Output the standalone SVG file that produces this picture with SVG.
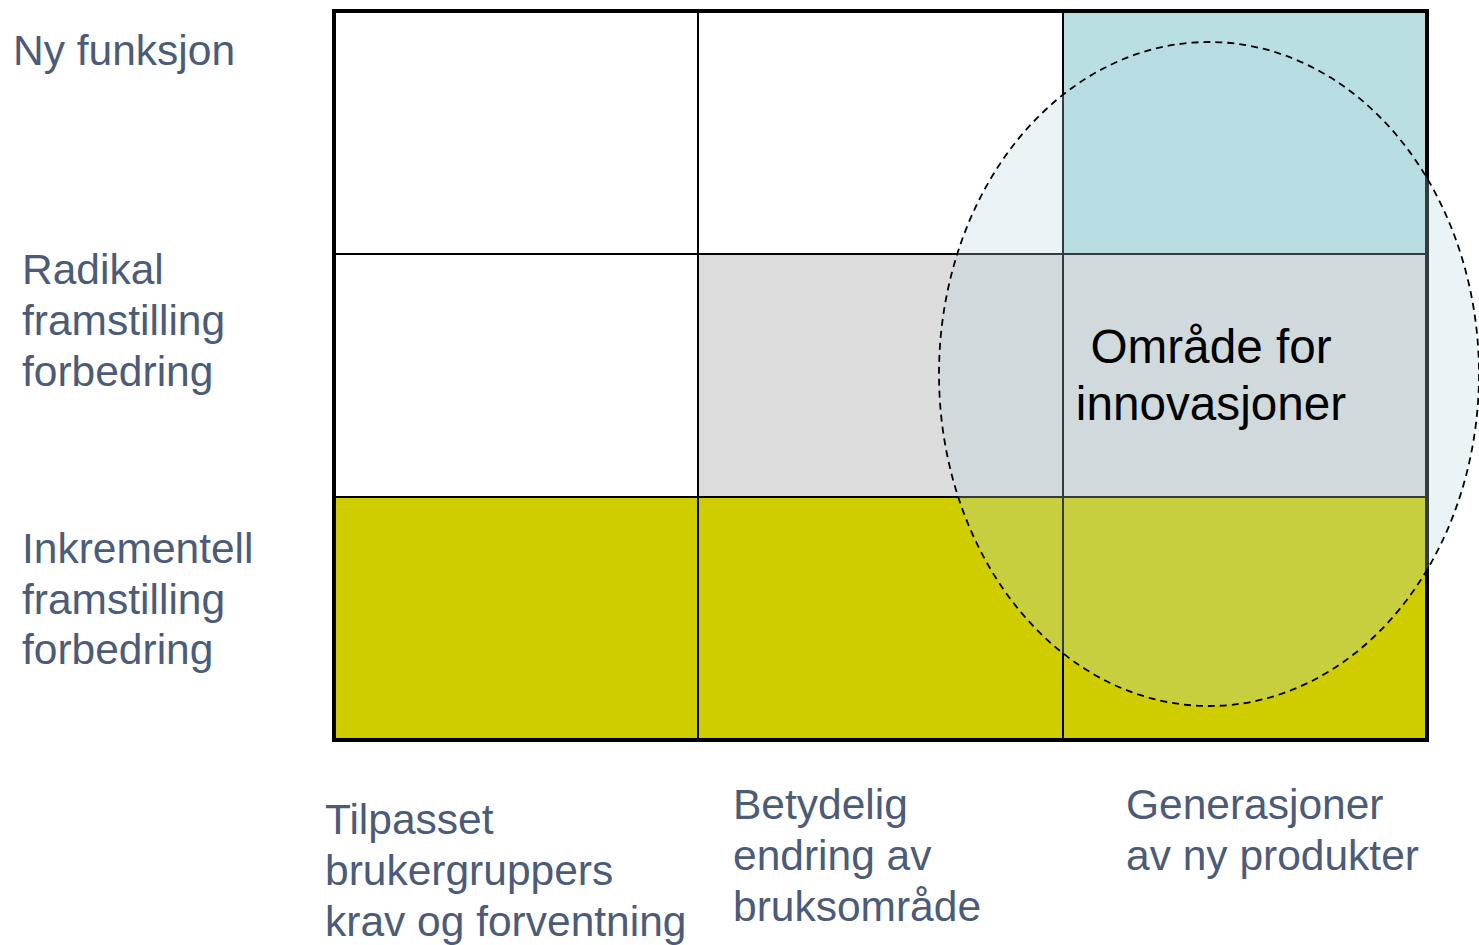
<svg xmlns="http://www.w3.org/2000/svg" width="1479" height="945" viewBox="0 0 1479 945">
<style>
.lbl{font-family:"Liberation Sans",Arial,sans-serif;font-size:42.5px;fill:#4b5b78}
.ctr{font-family:"Liberation Sans",Arial,sans-serif;font-size:47.7px;fill:#000}
.grid{stroke:#000;stroke-width:2;fill:none}
</style>
<rect width="1479" height="945" fill="#fff"/>
<g id="cells">
<rect x="334" y="11" width="1093" height="729" fill="#fff"/>
<rect id="cell-top-right" x="1063" y="11" width="364" height="243" fill="#b9dfe2"/>
<rect id="cell-mid-mid" x="698" y="254" width="365" height="243" fill="#dcdcdc"/>
<rect id="cell-mid-right" x="1063" y="254" width="364" height="243" fill="#dcdcdc"/>
<rect id="row-bottom" x="334" y="497" width="1093" height="243" fill="#cfcc00"/>
</g>
<g id="connectors">
<line class="grid" x1="698" y1="11" x2="698" y2="740"/>
<line class="grid" x1="1063" y1="11" x2="1063" y2="740"/>
<line class="grid" x1="334" y1="254" x2="1427" y2="254"/>
<line class="grid" x1="334" y1="497" x2="1427" y2="497"/>
<rect x="334" y="11" width="1093" height="729" fill="none" stroke="#000" stroke-width="4"/>
</g>
<g id="innovation-area">
<ellipse cx="1209" cy="374" rx="270" ry="332" fill="#b4d8e1" fill-opacity="0.28" stroke="#000" stroke-width="1.8" stroke-dasharray="7,5"/>
<text class="ctr" text-anchor="middle"><tspan x="1211" y="363">Område for</tspan><tspan x="1211" y="420">innovasjoner</tspan></text>
</g>
<g id="row-labels">
<text class="lbl" x="13" y="65">Ny funksjon</text>
<text class="lbl"><tspan x="22" y="284">Radikal</tspan><tspan x="22" y="335">framstilling</tspan><tspan x="22" y="386">forbedring</tspan></text>
<text class="lbl"><tspan x="22" y="563">Inkrementell</tspan><tspan x="22" y="614">framstilling</tspan><tspan x="22" y="664">forbedring</tspan></text>
</g>
<g id="col-labels">
<text class="lbl"><tspan x="325" y="834">Tilpasset</tspan><tspan x="325" y="885">brukergruppers</tspan><tspan x="325" y="936">krav og forventning</tspan></text>
<text class="lbl"><tspan x="733" y="819">Betydelig</tspan><tspan x="733" y="870">endring av</tspan><tspan x="733" y="921">bruksområde</tspan></text>
<text class="lbl"><tspan x="1126" y="819">Generasjoner</tspan><tspan x="1126" y="870">av ny produkter</tspan></text>
</g>
</svg>
